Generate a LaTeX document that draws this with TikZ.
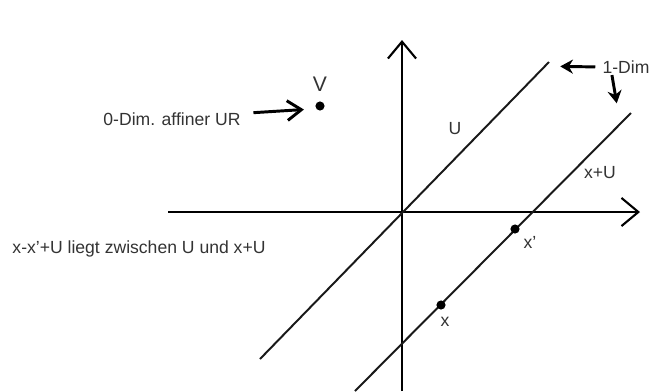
\documentclass[tikz,border=0pt]{standalone}
\usepackage{fontspec}
\setmainfont{Liberation Sans}
\usetikzlibrary{arrows.meta}

\begin{document}
\begin{tikzpicture}[x=0.025cm, y=-0.025cm, font=\fontsize{12.5}{15}\selectfont, text=black!80,
        axis/.style = {line width=1.5pt, -{Straight Barb[length=12pt,width=20pt]}},
        line/.style = {line width=1.4pt, black!90},
        pointer/.style = {line width=2.1pt, -{Stealth[length=9pt,width=10pt]}},
        dot/.style = {circle, fill, inner sep=0pt, minimum size=6.5pt},
        lbl/.style = {inner sep=1pt}]
        \useasboundingbox (0, 0) rectangle (652, 391);
        % axes
        \coordinate (O) at (402, 212);
        \coordinate (xl) at (168, 212);
        \coordinate (xr) at (640, 212);
        \coordinate (yb) at (402, 391);
        \coordinate (yt) at (402, 40);
        \path[axis] (xl) edge (xr);
        \path[axis] (yb) edge (yt);
        % U and x+U
        \coordinate (Ubot) at (260, 359);
        \coordinate (Utop) at (549, 62);
        \coordinate (xUbot) at (355, 391);
        \coordinate (xUtop) at (631, 113);
        \path[line] (Ubot) edge (Utop);
        \path[line] (xUbot) edge (xUtop);
        \node[lbl] (U) at (455, 129) {U};
        \node[lbl] (xU) at (600, 173) {x+U};
        % points
        \node[dot] (V) at (320, 106) {};
        \node[lbl, font=\fontsize{15}{18}\selectfont] (Vlbl) at (320, 84) {V};
        \node[dot] (xs) at (515, 229) {};
        \node[lbl] (xslbl) at (530, 242) {x'};
        \node[dot] (x) at (441, 305) {};
        \node[lbl] (xlbl) at (445, 322) {x};
        % notes
        \node[lbl] (zerodim) at (172, 119) {0-Dim. affiner UR};
        \node[lbl] (onedim) at (626, 67) {1-Dim};
        \node[lbl] (note) at (139, 249) {x-x'+U liegt zwischen U und x+U};
        \path[pointer, -{Straight Barb[length=10pt,width=14pt]}, shorten <=8pt, shorten >=8pt]
        ([yshift=4pt]zerodim.east) edge ([yshift=-2pt]V.west);
        \path[pointer, shorten <=4pt, shorten >=8pt]
        (onedim.west) edge ([yshift=-3pt]Utop);
        \path[pointer, shorten >=7pt]
        ([xshift=-10pt]onedim.south) edge ([xshift=-9pt]xUtop);
    \end{tikzpicture}
\end{document}
